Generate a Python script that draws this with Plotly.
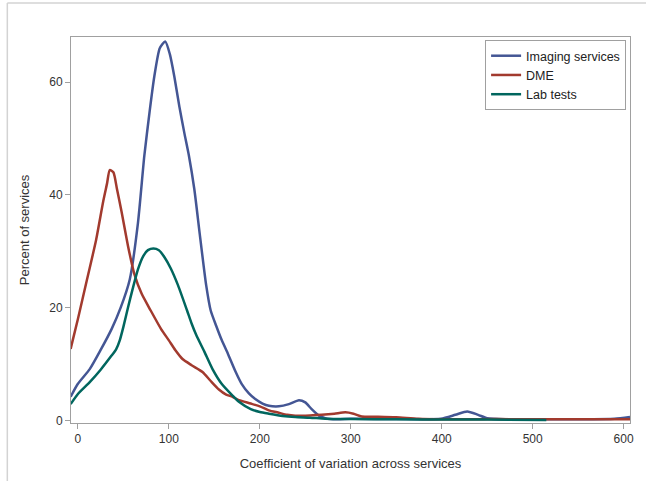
import plotly.graph_objects as go

# Coefficient of variation (x) and percent of services (y)
imaging_x = [-8, 0, 13, 25, 37, 47, 57, 66, 73, 79, 84, 90, 96, 101, 106, 111.5, 117, 122, 128, 134,
             141, 146, 152, 158, 165, 173.5, 180, 188, 195, 203, 210, 221, 232, 243, 250, 257, 265,
             272, 285, 300, 350, 399, 415, 428, 440, 450, 470, 500, 550, 590, 607]
imaging_y = [4.2, 6.5, 9.1, 12.5, 16.2, 20, 25, 35, 46.9, 55, 61, 66, 67.2, 65, 61, 55.7, 51, 47, 41, 33,
             24, 19.5, 16.8, 14.3, 11.8, 8.6, 6.5, 4.8, 3.8, 3.0, 2.6, 2.5, 2.9, 3.6, 3.2, 2.0, 0.85,
             0.4, 0.2, 0.3, 0.25, 0.3, 1.0, 1.6, 1.0, 0.4, 0.2, 0.2, 0.2, 0.3, 0.6]

dme_x = [-8, 0, 10, 20, 28, 32, 35, 39, 43, 48, 55, 62, 70, 80, 91.5, 100, 107, 115, 125, 137, 146,
         155, 163, 170, 177, 190, 200, 210, 220, 230, 239, 255, 268, 282, 294, 303, 312, 330, 350,
         374, 400, 430, 460, 500, 550, 607]
dme_y = [12.7, 18, 25, 32, 39, 42, 44.4, 44, 41, 37, 31, 26, 22.5, 19.5, 16.2, 14.2, 12.5, 10.9, 9.8,
         8.6, 7, 5.5, 4.6, 4.2, 3.6, 3.0, 2.5, 1.8, 1.4, 1.0, 0.85, 0.9, 1.0, 1.2, 1.45, 1.2, 0.7,
         0.65, 0.55, 0.3, 0.2, 0.2, 0.25, 0.2, 0.2, 0.2]

lab_x = [-8, 0, 13, 25, 37, 42, 46, 50, 55, 60, 66, 72, 77, 83, 89, 95, 102, 110, 120, 125, 130, 139,
         148, 158, 170, 177, 190, 200, 210, 225, 239, 255, 272, 300, 350, 400, 450, 515]
lab_y = [2.9, 4.7, 6.8, 9, 11.5, 12.6, 14.2, 16.6, 20, 23.2, 26.8, 29.2, 30.2, 30.5, 30.2, 29, 27, 24,
         19.5, 17.2, 15.2, 12.2, 9.1, 6.5, 4.4, 3.3, 2.0, 1.5, 1.2, 0.8, 0.6, 0.5, 0.3, 0.25, 0.2,
         0.15, 0.15, 0.1]

x_ticks = [0, 100, 200, 300, 400, 500, 600]
y_ticks = [0, 20, 40, 60]

font_family = "Liberation Sans, Arial, sans-serif"
grey = "#A0A0A0"

fig = go.Figure()
series = [("Imaging services", imaging_x, imaging_y, "#445694"),
          ("DME", dme_x, dme_y, "#A23A2E"),
          ("Lab tests", lab_x, lab_y, "#01665E")]
for name, xs, ys, col in series:
    fig.add_trace(go.Scatter(x=xs, y=ys, name=name, mode="lines",
                             line=dict(color=col, width=2.5, shape="spline", smoothing=0.6)))

fig.update_layout(
    width=646, height=481,
    margin=dict(l=71, r=13, t=37, b=57),
    paper_bgcolor="white", plot_bgcolor="white",
    font=dict(family=font_family, size=12, color="#333333"),
    showlegend=True,
    legend=dict(x=0.993, y=0.992, xanchor="right", yanchor="top",
                bordercolor=grey, borderwidth=1, bgcolor="white",
                font=dict(size=12.5, color="#222222"), tracegroupgap=0),
    xaxis=dict(range=[-7.6, 607], tickvals=x_ticks, ticktext=[str(v) for v in x_ticks],
               showgrid=False, zeroline=False, showline=True, linecolor=grey, linewidth=1,
               mirror=True, ticks="outside", ticklen=5, tickcolor=grey,
               title=dict(text="Coefficient of variation across services", standoff=13,
                          font=dict(size=13, color="#333333"))),
    yaxis=dict(range=[-0.45, 68], tickvals=y_ticks, ticktext=[str(v) for v in y_ticks],
               showgrid=False, zeroline=False, showline=True, linecolor=grey, linewidth=1,
               mirror=True, ticks="outside", ticklen=5, tickcolor=grey,
               title=dict(text="Percent of services", standoff=16,
                          font=dict(size=13, color="#333333"))),
)

# outer container border (light grey lines at top and left)
fig.add_shape(type="line", xref="paper", yref="paper", x0=-0.1139, x1=1.03, y0=1.0879, y1=1.0879,
              line=dict(color="#D3D3D3", width=1.5))
fig.add_shape(type="line", xref="paper", yref="paper", x0=-0.1139, x1=-0.1139, y0=1.0879, y1=-0.16,
              line=dict(color="#D3D3D3", width=1.5))

fig.write_html("out.html")
